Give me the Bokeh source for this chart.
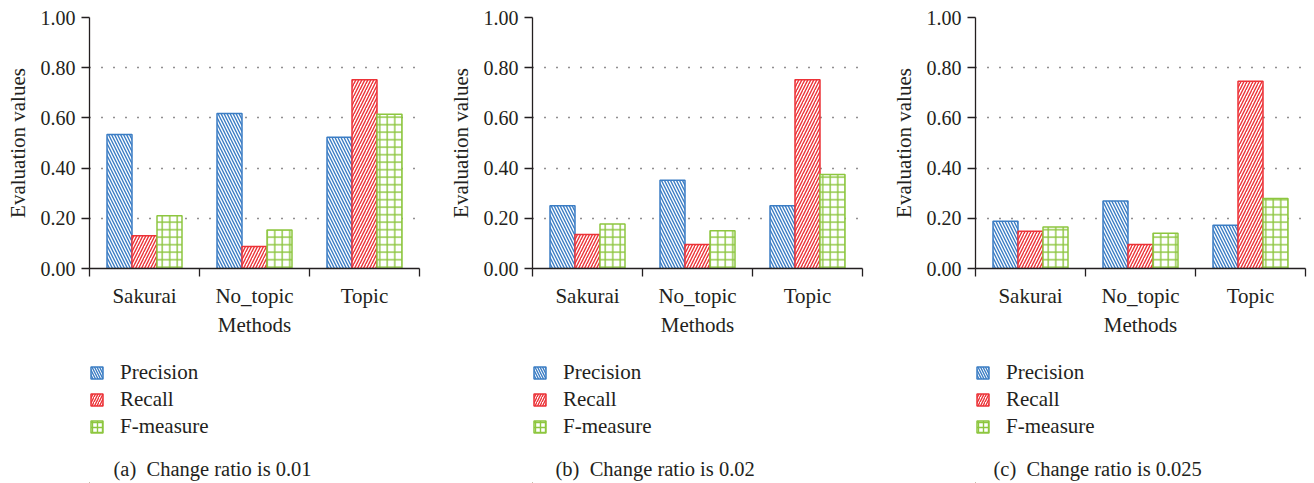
from bokeh.plotting import figure
from bokeh.models import (Range1d, FixedTicker, PrintfTickFormatter, Legend, LegendItem,
                          Label, ColumnDataSource)
from bokeh.layouts import row, column
from bokeh.embed import file_html
from bokeh.resources import INLINE

methods = ["Sakurai", "No_topic", "Topic"]
series = ["Precision", "Recall", "F-measure"]
captions = ["(a)  Change ratio is 0.01", "(b)  Change ratio is 0.02", "(c)  Change ratio is 0.025"]

precision_a = [0.534, 0.618, 0.523]
recall_a = [0.130, 0.088, 0.752]
fmeasure_a = [0.210, 0.153, 0.615]

precision_b = [0.250, 0.352, 0.250]
recall_b = [0.135, 0.096, 0.752]
fmeasure_b = [0.177, 0.150, 0.375]

precision_c = [0.188, 0.269, 0.172]
recall_c = [0.148, 0.096, 0.746]
fmeasure_c = [0.165, 0.140, 0.279]

y_ticks = [0.0, 0.2, 0.4, 0.6, 0.8, 1.0]

panels = [
    (precision_a, recall_a, fmeasure_a),
    (precision_b, recall_b, fmeasure_b),
    (precision_c, recall_c, fmeasure_c),
]

FONT = "Liberation Serif"
TXT = "#231f20"
FS = "21px"
colors = ["#3b7dc4", "#ec3237", "#8dc63f"]
patterns = ["left_diagonal_line", "right_diagonal_line", "cross"]
scales = [6, 6, 7.5]
bar_w = 25 / 110
offsets = [-bar_w, 0.0, bar_w]
widths = [443, 443, 428]
right_borders = [24, 24, 9]
cap_x = [24, 23, 18]
TOP_H = 343
BOT_H = 140
STRIP0 = 1000  # strip view lies far away from the bars: they only feed the legend swatches

cols = []
for k, (prec, rec, fm) in enumerate(panels):
    p = figure(width=widths[k], height=TOP_H, output_backend="svg", toolbar_location=None,
               x_range=Range1d(0, 3), y_range=Range1d(0, 1.0),
               min_border_left=89, min_border_right=right_borders[k], min_border_top=17,
               min_border_bottom=75, outline_line_color=None, background_fill_color="white")
    q = figure(width=widths[k], height=BOT_H, output_backend="svg", toolbar_location=None,
               x_range=Range1d(STRIP0, STRIP0 + 330), y_range=Range1d(STRIP0, STRIP0 + BOT_H),
               x_axis_type=None, y_axis_type=None,
               min_border_left=89, min_border_right=right_borders[k], min_border_top=0,
               min_border_bottom=0, outline_line_color=None, background_fill_color="white")
    q.grid.visible = False

    items = []
    for j, vals in enumerate([prec, rec, fm]):
        xs = [i + 0.5 + offsets[j] for i in range(len(methods))]
        src = ColumnDataSource(dict(x=xs, top=vals))
        style = dict(fill_color="white", line_color=colors[j], line_width=1.5,
                     hatch_pattern=patterns[j], hatch_color=colors[j], hatch_weight=1.4)
        p.vbar(x="x", top="top", bottom=0, width=bar_w, source=src,
               hatch_scale=scales[j], **style)
        r = q.vbar(x="x", top="top", bottom=0, width=bar_w, source=src,
                   hatch_scale=5, **style)
        items.append(LegendItem(label=series[j], renderers=[r]))

    # x axis
    xa = p.xaxis[0]
    xa.ticker = FixedTicker(ticks=[i + 0.5 for i in range(len(methods))],
                            minor_ticks=[float(i) for i in range(len(methods) + 1)])
    xa.major_label_overrides = {i + 0.5: m for i, m in enumerate(methods)}
    xa.major_tick_out = 0
    xa.major_tick_in = 0
    xa.minor_tick_out = 8
    xa.minor_tick_in = 0
    xa.minor_tick_line_color = TXT
    xa.minor_tick_line_width = 1.3
    xa.axis_line_color = TXT
    xa.axis_line_width = 1.3
    xa.major_label_standoff = 7
    xa.major_label_text_font = FONT
    xa.major_label_text_font_size = FS
    xa.major_label_text_color = TXT
    xa.axis_label = "Methods"
    xa.axis_label_text_font = FONT
    xa.axis_label_text_font_size = FS
    xa.axis_label_text_font_style = "normal"
    xa.axis_label_text_color = TXT
    xa.axis_label_standoff = 2

    # y axis
    ya = p.yaxis[0]
    ya.ticker = FixedTicker(ticks=y_ticks, minor_ticks=[])
    ya.formatter = PrintfTickFormatter(format="%.2f")
    ya.major_tick_out = 8
    ya.major_tick_in = 0
    ya.major_tick_line_color = TXT
    ya.major_tick_line_width = 1.3
    ya.minor_tick_out = 0
    ya.axis_line_color = TXT
    ya.axis_line_width = 1.3
    ya.major_label_standoff = 6
    ya.major_label_text_font = FONT
    ya.major_label_text_font_size = "20px"
    ya.major_label_text_color = TXT
    ya.axis_label = "Evaluation values"
    ya.axis_label_text_font = FONT
    ya.axis_label_text_font_size = FS
    ya.axis_label_text_font_style = "normal"
    ya.axis_label_text_color = TXT
    ya.axis_label_standoff = 8

    p.xgrid.visible = False
    p.ygrid.ticker = FixedTicker(ticks=y_ticks[1:])
    p.ygrid.grid_line_color = TXT
    p.ygrid.grid_line_dash = "1 11"
    p.ygrid.grid_line_width = 1.4

    legend = Legend(items=items, location=(0, 44), orientation="vertical",
                    glyph_width=15, glyph_height=15, label_height=25, spacing=2,
                    label_standoff=16, padding=0, margin=0, border_line_color=None,
                    background_fill_alpha=0, inactive_fill_alpha=0,
                    label_text_font=FONT, label_text_font_size=FS, label_text_color=TXT)
    q.add_layout(legend, "center")
    q.add_layout(Label(x=STRIP0 + cap_x[k], y=STRIP0 + 15,
                       text=captions[k].replace("  ", "\u00a0 "),
                       text_font=FONT, text_font_size="20.5px", text_color=TXT,
                       text_baseline="middle"))
    cols.append(column(p, q, spacing=0))

layout = row(*cols, spacing=0)
open("out.html", "w").write(file_html(layout, INLINE))
